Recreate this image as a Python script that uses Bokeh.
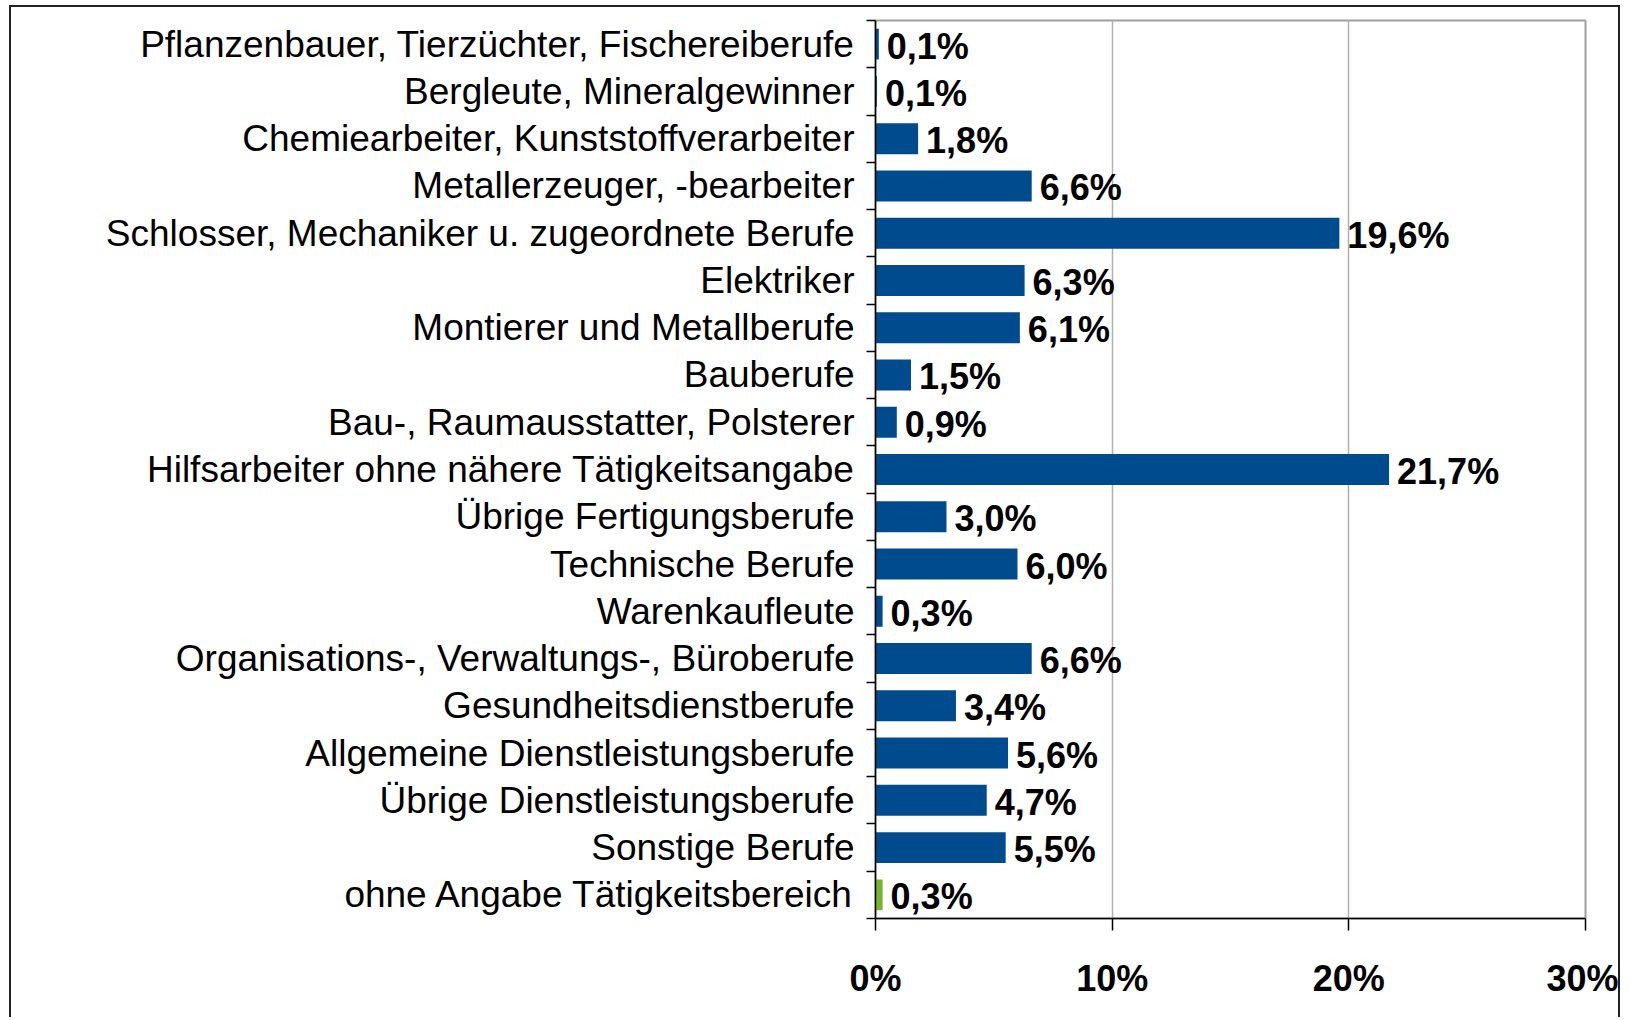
from bokeh.plotting import figure
from bokeh.models import ColumnDataSource, FixedTicker, Range1d, PrintfTickFormatter
from bokeh.core.properties import value
from bokeh.embed import file_html
from bokeh.resources import INLINE

categories = [
    "Pflanzenbauer, Tierzüchter, Fischereiberufe",
    "Bergleute, Mineralgewinner",
    "Chemiearbeiter, Kunststoffverarbeiter",
    "Metallerzeuger, -bearbeiter",
    "Schlosser, Mechaniker u. zugeordnete Berufe",
    "Elektriker",
    "Montierer und Metallberufe",
    "Bauberufe",
    "Bau-, Raumausstatter, Polsterer",
    "Hilfsarbeiter ohne nähere Tätigkeitsangabe",
    "Übrige Fertigungsberufe",
    "Technische Berufe",
    "Warenkaufleute",
    "Organisations-, Verwaltungs-, Büroberufe",
    "Gesundheitsdienstberufe",
    "Allgemeine Dienstleistungsberufe",
    "Übrige Dienstleistungsberufe",
    "Sonstige Berufe",
    "ohne Angabe Tätigkeitsbereich",
]
values = [0.14, 0.06, 1.8, 6.6, 19.6, 6.3, 6.1, 1.5, 0.9, 21.7, 3.0, 6.0, 0.3, 6.6, 3.4, 5.6, 4.7, 5.5, 0.3]
value_labels = ["0,1%", "0,1%", "1,8%", "6,6%", "19,6%", "6,3%", "6,1%", "1,5%", "0,9%", "21,7%",
                "3,0%", "6,0%", "0,3%", "6,6%", "3,4%", "5,6%", "4,7%", "5,5%", "0,3%"]
x_ticks = [0, 10, 20, 30]

BLUE = "#004B8D"
GREEN = "#78B22E"
n = len(categories)
ypos = [n - 0.5 - i for i in range(n)]
colors = [BLUE] * (n - 1) + [GREEN]

src = ColumnDataSource(dict(y=ypos, v=values, lab=value_labels, c=colors))

W, H = 1611, 1012
p = figure(width=W, height=H, output_backend="svg", toolbar_location=None,
           x_range=Range1d(0, 30), y_range=Range1d(0, n),
           min_border_left=864, min_border_right=37, min_border_top=13, min_border_bottom=101)
p.styles = {"margin-left": "9px", "margin-top": "5px",
            "border-top": "2px solid #222222", "border-left": "2px solid #222222",
            "border-right": "2px solid #222222"}

p.hbar(y="y", right="v", left=0, height=0.655, color="c", line_color=None, source=src)
p.text(x="v", y="y", text="lab", source=src, x_offset=8, y_offset=2,
       text_font=value("Liberation Sans"), text_font_style="bold", text_font_size="36px",
       text_baseline="middle", text_align="left", text_color="black")

# x axis
xa = p.xaxis[0]
xa.ticker = FixedTicker(ticks=x_ticks, minor_ticks=[])
xa.formatter = PrintfTickFormatter(format="%d%%")
xa.axis_line_color = "black"
xa.axis_line_width = 1.5
xa.major_tick_out = 12
xa.major_tick_in = 0
xa.major_tick_line_color = "black"
xa.major_tick_line_width = 1.5
xa.minor_tick_line_color = None
xa.major_label_standoff = 27
xa.major_label_text_font = "Liberation Sans"
xa.major_label_text_font_style = "bold"
xa.major_label_text_font_size = "36px"
xa.major_label_text_color = "black"

# y axis: labels at row centres, ticks at row boundaries
ya = p.yaxis[0]
ya.ticker = FixedTicker(ticks=ypos, minor_ticks=list(range(n + 1)))
ya.major_label_overrides = {y: c for y, c in zip(ypos, categories)}
ya.axis_line_color = "black"
ya.axis_line_width = 1.5
ya.major_tick_out = 0
ya.major_tick_in = 0
ya.minor_tick_out = 9
ya.minor_tick_in = 0
ya.minor_tick_line_color = "black"
ya.minor_tick_line_width = 1.5
ya.major_label_standoff = 12
ya.major_label_text_font = "Liberation Sans"
ya.major_label_text_font_size = "37px"
ya.major_label_text_font_style = "normal"
ya.major_label_text_color = "black"

p.ygrid.grid_line_color = None
p.xgrid.grid_line_color = "#B0B0B0"
p.xgrid.grid_line_width = 1.5
p.outline_line_color = "#A0A0A0"
p.outline_line_width = 2
p.background_fill_color = "white"
p.border_fill_color = "white"

open("out.html", "w").write(file_html(p, INLINE))
